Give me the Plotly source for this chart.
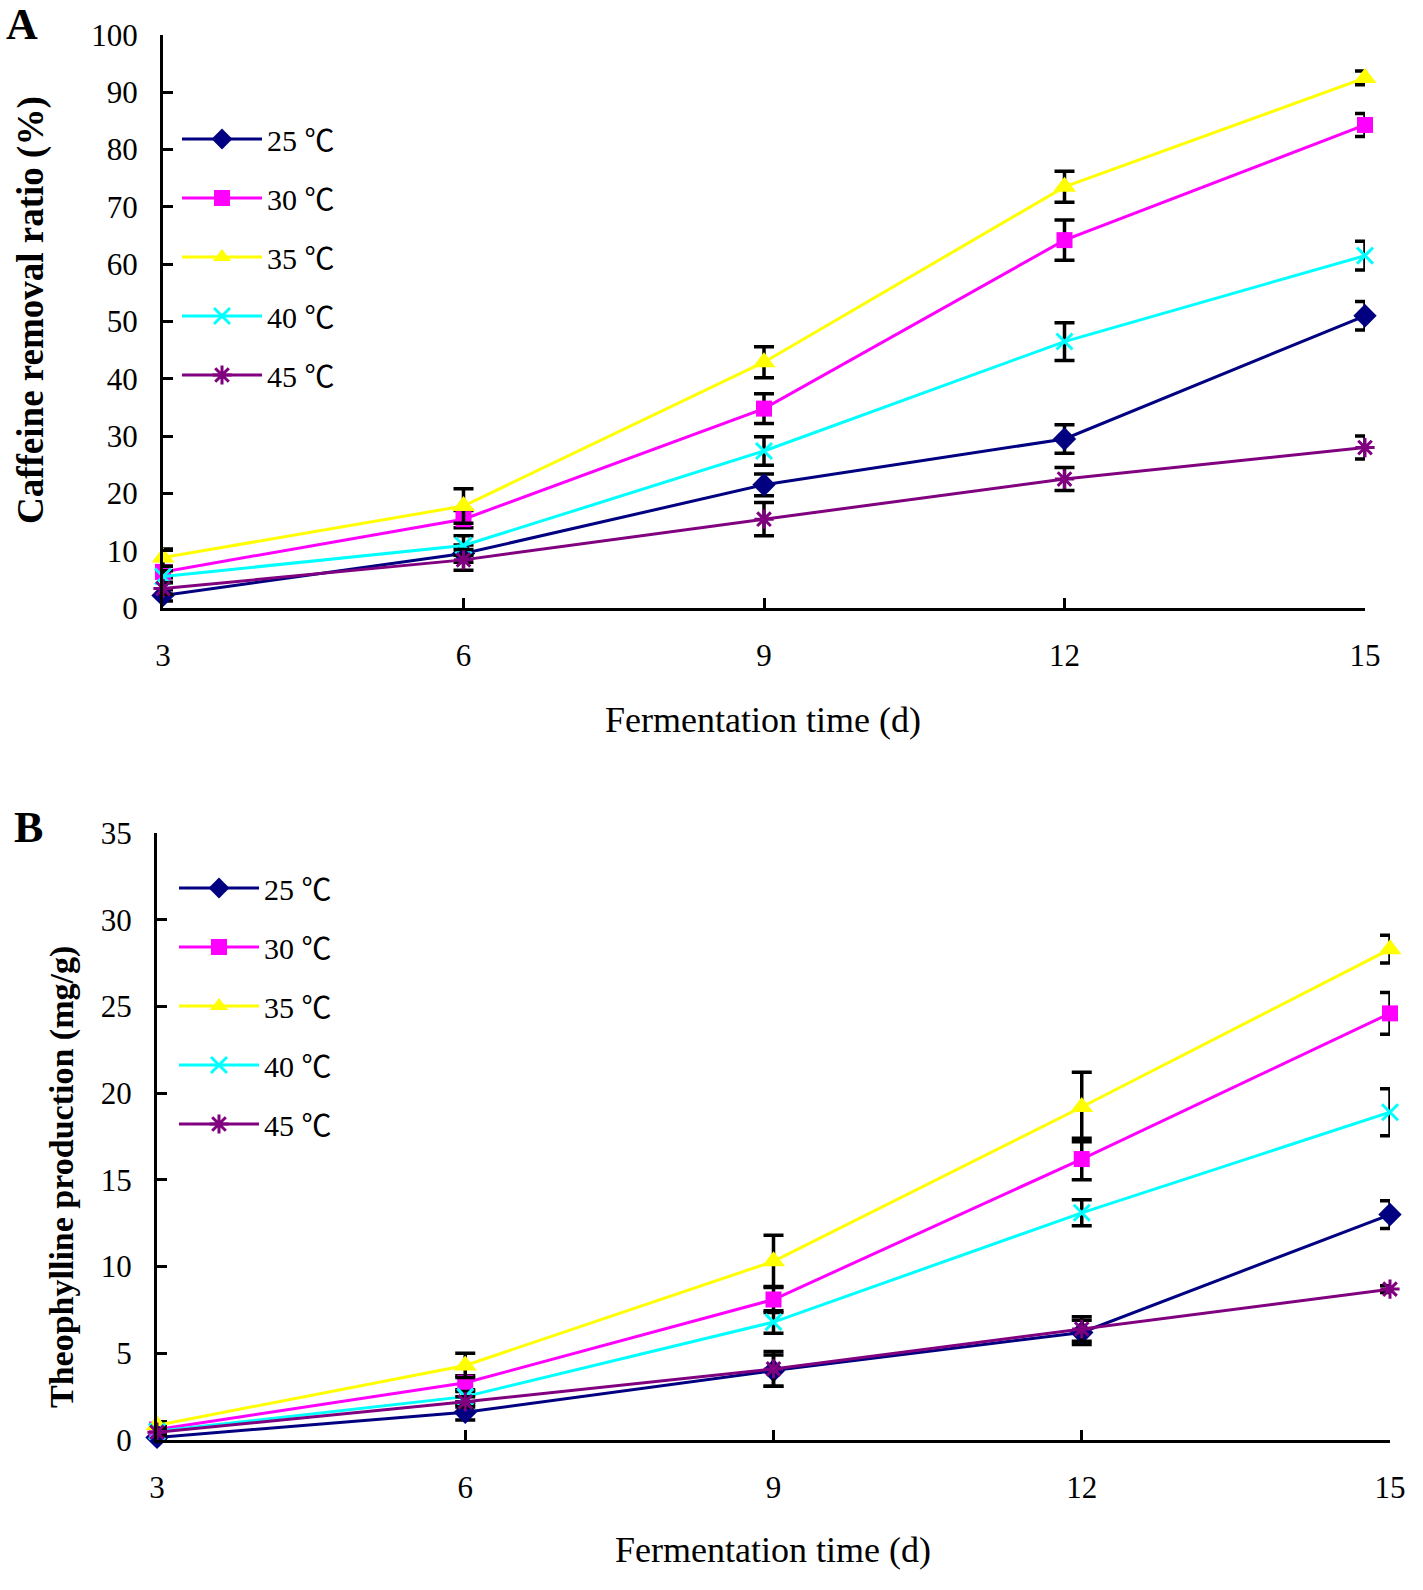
import plotly.graph_objects as go

W, H = 1423, 1590

days = [3, 6, 9, 12, 15]
temps = ["25", "30", "35", "40", "45"]

# Panel A: caffeine removal ratio (%)
a_vals = [
    [2.2, 9.5, 21.5, 29.5, 51.0],
    [6.3, 15.5, 34.8, 64.2, 84.3],
    [8.8, 17.8, 42.9, 73.5, 92.5],
    [5.5, 10.9, 27.4, 46.5, 61.5],
    [3.4, 8.4, 15.5, 22.5, 28.0],
]
a_err = [
    [1.0, 1.5, 1.9, 2.5, 2.5],
    [1.0, 1.5, 2.6, 3.5, 2.0],
    [1.5, 3.0, 2.7, 2.7, 1.2],
    [1.0, 1.7, 2.5, 3.3, 2.5],
    [1.0, 1.8, 2.9, 2.0, 2.0],
]

# Panel B: theophylline production (mg/g)
b_vals = [
    [0.15, 1.6, 4.0, 6.2, 13.0],
    [0.6, 3.3, 8.1, 16.2, 24.6],
    [0.85, 4.3, 10.3, 19.2, 28.3],
    [0.5, 2.5, 6.8, 13.1, 18.9],
    [0.45, 2.2, 4.1, 6.4, 8.7],
]
b_err = [
    [0.2, 0.45, 0.9, 0.7, 0.8],
    [0.2, 0.4, 0.75, 1.2, 1.2],
    [0.2, 0.7, 1.5, 2.0, 0.8],
    [0.2, 0.3, 0.65, 0.75, 1.35],
    [0.2, 0.3, 1.0, 0.7, 0.2],
]

colors = ["#000080", "#FF00FF", "#FFFF00", "#00FFFF", "#800080"]
symbols = ["diamond", "square", "triangle-up", "x-thin-open", "asterisk-open"]
msizes = [18, 16, 20, 16, 16]

SERIF = "Liberation Serif, Times New Roman, Noto Sans CJK SC, serif"
CJK = "Noto Sans CJK SC"
labels = [f"{t} <span style='font-family:{CJK}'>℃</span>" for t in temps]

fig = go.Figure()
for panel, (vals, errs) in enumerate([(a_vals, a_err), (b_vals, b_err)]):
    xa = "x" if panel == 0 else "x2"
    ya = "y" if panel == 0 else "y2"
    for i in range(5):
        open_sym = symbols[i].endswith("open")
        fig.add_trace(go.Scatter(
            x=days, y=vals[i], name=labels[i], xaxis=xa, yaxis=ya,
            mode="lines+markers",
            line=dict(color=colors[i], width=3),
            marker=dict(symbol=symbols[i], size=msizes[i], color=colors[i],
                        line=dict(color=colors[i], width=3 if open_sym else 0)),
            error_y=dict(type="data", array=errs[i], visible=True,
                         color="black", thickness=3.5, width=10),
            cliponaxis=False,
            legend="legend" if panel == 0 else "legend2",
            legendgroup=f"p{panel}s{i}",
        ))

def px_x(p):
    return p / W

def px_y(p):
    return 1 - p / H

axis_common = dict(
    showline=True, linecolor="black", linewidth=3,
    ticks="inside", ticklen=10, tickwidth=3, tickcolor="black",
    showgrid=False, zeroline=False, automargin=False,
    tickfont=dict(family=SERIF, size=31, color="black"),
)

fig.update_layout(
    width=W, height=H, autosize=False,
    margin=dict(l=0, r=0, t=0, b=0, pad=0, autoexpand=False),
    paper_bgcolor="white", plot_bgcolor="white",
    xaxis=dict(domain=[px_x(163), px_x(1365)], range=[3, 15], tickvals=days,
               anchor="y", ticklabelstandoff=18, **axis_common),
    yaxis=dict(domain=[px_y(608), px_y(35)], range=[0, 100], dtick=10,
               anchor="x", ticklabelstandoff=16, **axis_common),
    xaxis2=dict(domain=[px_x(157), px_x(1390)], range=[3, 15], tickvals=days,
                anchor="y2", ticklabelstandoff=18, **axis_common),
    yaxis2=dict(domain=[px_y(1440), px_y(833)], range=[0, 35], dtick=5,
                anchor="x2", ticklabelstandoff=16, **axis_common),
    legend=dict(x=px_x(177), y=px_y(113), xanchor="left", yanchor="top",
                font=dict(family=SERIF, size=30, color="black"),
                bgcolor="rgba(0,0,0,0)", itemwidth=80, tracegroupgap=17),
    legend2=dict(x=px_x(174), y=px_y(862), xanchor="left", yanchor="top",
                 font=dict(family=SERIF, size=30, color="black"),
                 bgcolor="rgba(0,0,0,0)", itemwidth=80, tracegroupgap=17),
    showlegend=True,
)

ann = [
    dict(text="<b>A</b>", x=px_x(22), y=px_y(25), size=44),
    dict(text="<b>B</b>", x=px_x(28), y=px_y(827), size=44),
    dict(text="Fermentation time (d)", x=px_x(763), y=px_y(720), size=36),
    dict(text="Fermentation time (d)", x=px_x(773), y=px_y(1550), size=36),
]
for a in ann:
    fig.add_annotation(text=a["text"], x=a["x"], y=a["y"], xref="paper", yref="paper",
                       xanchor="center", yanchor="middle", showarrow=False,
                       font=dict(family=SERIF, size=a["size"], color="black"))

fig.add_annotation(text="<b>Caffeine removal ratio (%)</b>", x=px_x(31), y=px_y(310),
                   xref="paper", yref="paper", textangle=-90, showarrow=False,
                   xanchor="center", yanchor="middle",
                   font=dict(family=SERIF, size=37, color="black"))
fig.add_annotation(text="<b>Theophylline production (mg/g)</b>", x=px_x(62), y=px_y(1177),
                   xref="paper", yref="paper", textangle=-90, showarrow=False,
                   xanchor="center", yanchor="middle",
                   font=dict(family=SERIF, size=34, color="black"))

fig.write_html("out.html", config={"displayModeBar": False},
               post_script="document.body.style.margin='0';document.body.style.padding='0';")
